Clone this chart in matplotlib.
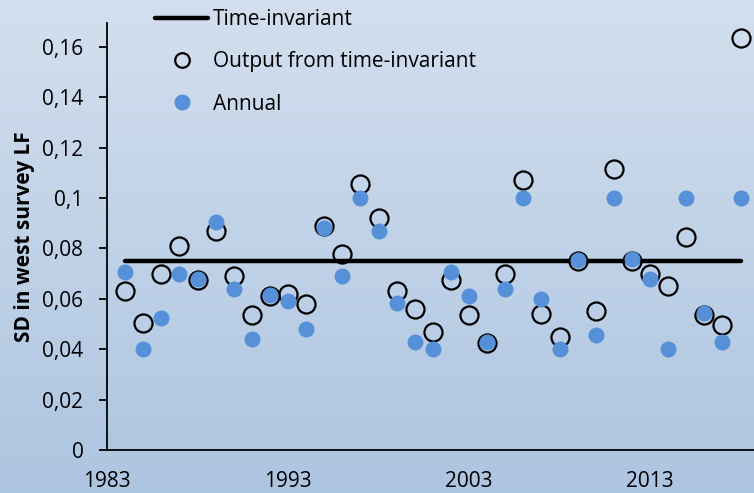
import numpy as np
import matplotlib
matplotlib.use('Agg')
import matplotlib.pyplot as plt
from matplotlib.lines import Line2D

# data
years = [1984, 1985, 1986, 1987, 1988, 1989, 1990, 1991, 1992, 1993,
         1994, 1995, 1996, 1997, 1998, 1999, 2000, 2001, 2002, 2003,
         2004, 2005, 2006, 2007, 2008, 2009, 2010, 2011, 2012, 2013,
         2014, 2015, 2016, 2017, 2018]
output_invariant = [0.063, 0.0505, 0.070, 0.081, 0.0675, 0.087, 0.069, 0.0535, 0.061, 0.062,
                    0.058, 0.089, 0.078, 0.1055, 0.092, 0.063, 0.056, 0.047, 0.0675, 0.0535,
                    0.0425, 0.070, 0.107, 0.054, 0.045, 0.075, 0.055, 0.1115, 0.075, 0.070,
                    0.065, 0.0845, 0.0535, 0.0495, 0.1635]
annual = [0.0705, 0.040, 0.0525, 0.070, 0.068, 0.0905, 0.064, 0.044, 0.0615, 0.059,
          0.048, 0.088, 0.069, 0.100, 0.087, 0.0585, 0.043, 0.040, 0.0705, 0.061,
          0.043, 0.064, 0.100, 0.060, 0.040, 0.0755, 0.0455, 0.100, 0.076, 0.068,
          0.040, 0.100, 0.0545, 0.043, 0.100]
line_years = [1984, 2018]
line_vals = [0.075, 0.075]

yticks = [0, 0.02, 0.04, 0.06, 0.08, 0.1, 0.12, 0.14, 0.16]
ytick_labels = ['0', '0,02', '0,04', '0,06', '0,08', '0,1', '0,12', '0,14', '0,16']
xticks = [1983, 1993, 2003, 2013]

plt.rcParams['font.family'] = ['Open Sans', 'DejaVu Sans']

W, H = 754, 493
fig = plt.figure(figsize=(W / 100, H / 100), dpi=100)

# gradient background
bg = fig.add_axes([0, 0, 1, 1], zorder=-10)
grad = np.linspace(0, 1, 256).reshape(-1, 1)
top = np.array([0.827, 0.875, 0.933])
bot = np.array([0.678, 0.773, 0.882])
img = top[None, None, :] * (1 - grad[:, :, None]) + bot[None, None, :] * grad[:, :, None]
bg.imshow(img, aspect='auto', extent=[0, 1, 0, 1])
bg.axis('off')

ax = fig.add_axes([107 / W, 43 / H, (W - 107) / W, 427 / H])
ax.patch.set_alpha(0)

blue = '#5590d8'
ax.plot(line_years, line_vals, color='black', lw=3.2, solid_capstyle='round', zorder=2)
ax.plot(years, output_invariant, ls='none', marker='o', ms=13, mfc='none', mec='black',
        mew=1.6, zorder=3)
ax.plot(years, annual, ls='none', marker='o', ms=11.5, mfc=blue, mec='none', zorder=4)

ax.set_xlim(1983, 1983 + (W - 107) / 18.1)
ax.set_ylim(0, 0.1695)
ax.set_yticks(yticks)
ax.set_yticklabels(ytick_labels)
ax.set_xticks(xticks)
ax.set_xticklabels([str(x) for x in xticks])

for s in ['top', 'right']:
    ax.spines[s].set_visible(False)
ax.spines['left'].set_linewidth(1.3)
ax.spines['bottom'].set_linewidth(1.3)
ax.tick_params(axis='y', direction='out', length=6, width=1.3, pad=11, labelsize=15)
ax.tick_params(axis='x', length=0, pad=15, labelsize=15)

ax.set_ylabel('SD in west survey LF', fontsize=15, fontweight='bold', labelpad=5)

# legend with its own marker sizes
handles = [Line2D([], [], color='black', lw=3.2, solid_capstyle='round'),
           Line2D([], [], ls='none', marker='o', ms=10.5, mfc='none', mec='black', mew=1.6),
           Line2D([], [], ls='none', marker='o', ms=11.5, mfc=blue, mec='none')]
labels = ['Time-invariant', 'Output from time-invariant', 'Annual']
leg = fig.legend(handles, labels, loc='upper left', bbox_to_anchor=(155 / W, 1 - 9 / H),
                 frameon=False, fontsize=15, borderpad=0, borderaxespad=0,
                 handlelength=2.55, handletextpad=0.24, labelspacing=1.02)

fig.savefig('out.png', dpi=100)
